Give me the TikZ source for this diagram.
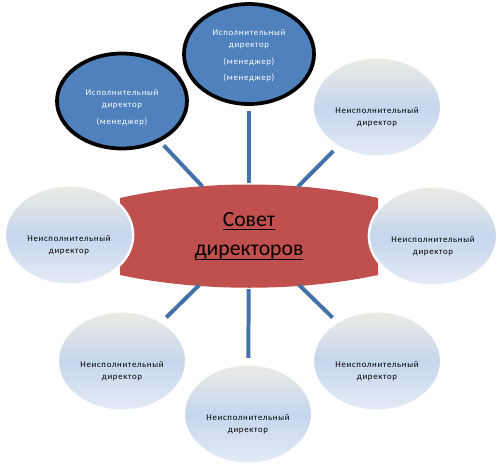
\documentclass[tikz,border=0pt]{standalone}
\usepackage{fontspec}
\setmainfont{Carlito}
\newfontfamily\smallfont[LetterSpace=8]{Carlito}
\usetikzlibrary{shapes.geometric}

\definecolor{execblue}{RGB}{79,129,189}
\definecolor{linkblue}{RGB}{68,114,168}
\definecolor{boardred}{RGB}{192,80,77}
\definecolor{shadetop}{RGB}{236,236,228}
\definecolor{shademid}{RGB}{198,214,237}
\definecolor{shadebot}{RGB}{228,235,246}

\newlength{\ulwd}
\newcommand{\boldul}[1]{\settowidth{\ulwd}{#1}\rlap{#1}\rule[-3.5pt]{\ulwd}{1.3pt}}
\newcommand{\nedir}{\rule{0pt}{23pt}Неисполнительный\\директор}

\begin{document}
\begin{tikzpicture}[x=0.03cm,y=-0.03cm,
  exec/.style={ellipse,draw=black,line width=3.2pt,fill=execblue,text=white,
    minimum width=3.9cm,minimum height=2.85cm,inner sep=0pt,align=center,
    font=\smallfont\fontsize{7.5}{10.5}\selectfont},
  nonexec/.style={ellipse,draw=white,line width=2pt,top color=shadetop,
    bottom color=shadebot,middle color=shademid,
    minimum width=3.85cm,minimum height=2.98cm,inner sep=0pt,align=center,
    font=\smallfont\fontsize{7.5}{10.5}\selectfont},
  board/.style={ellipse,minimum width=7.74cm,minimum height=3.18cm,inner sep=0pt,
    align=center,font=\fontsize{18.5}{19}\selectfont},
  link/.style={draw=linkblue,line width=3.4pt,shorten >=4.5pt}]
  \useasboundingbox (0,0) rectangle (497,469);
  % совет директоров
  \fill[boardred] (120,198) .. controls (200,180) and (298,180) .. (378,198)
    -- (378,275) .. controls (298,292) and (200,292) .. (120,275) -- cycle;
  \node[board] (bd) at (249,236) {\boldul{Совет}\\[6.5pt]\boldul{директоров}};
  % неисполнительные директора
  \node[nonexec] (ne1) at (377,107) {\nedir};
  \node[nonexec] (ne2) at (433,236) {\nedir};
  \node[nonexec] (ne3) at (377,361) {\nedir};
  \node[nonexec] (ne4) at (248,414) {\nedir};
  \node[nonexec] (ne5) at (122,361) {\nedir};
  \node[nonexec] (ne6) at (69,235) {\nedir};
  % исполнительные директора
  \node[exec,minimum height=3cm] (ex1) at (249,54)
    {\rule{0pt}{8pt}Исполнительный\\директор\\[3.4pt](менеджер)\\[3.4pt](менеджер)};
  \node[exec] (ex2) at (122,101)
    {\rule{0pt}{16pt}Исполнительный\\директор\\[4pt](менеджер)};
  % связи
  \foreach \n in {ex1,ex2,ne1,ne3,ne4,ne5} \draw[link] (bd) -- (\n);
\end{tikzpicture}
\end{document}
